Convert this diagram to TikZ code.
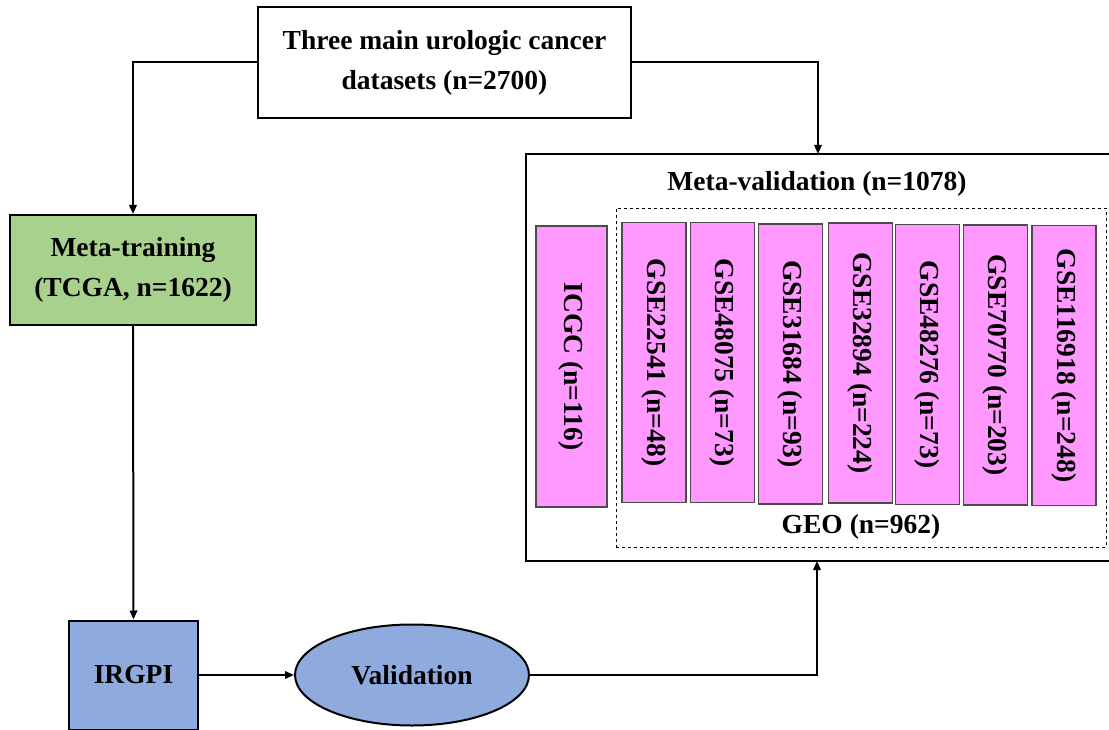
\documentclass[tikz,border=0pt]{standalone}
\usepackage{fontspec}
\setmainfont{Liberation Serif}
\usetikzlibrary{arrows.meta,shapes.geometric}
\definecolor{TrainGreen}{HTML}{A9D18E}
\definecolor{ModelBlue}{HTML}{8FAADC}
\definecolor{CohortPink}{HTML}{FF99FF}

\begin{document}
\begin{tikzpicture}[x=1pt,y=-1pt,
    font=\fontsize{27.5}{40}\selectfont\bfseries,
    box/.style={draw,line width=2pt,inner sep=0pt,align=center},
    cohort/.style={draw=black!70,line width=1.1pt,fill=CohortPink,rotate=-90,inner sep=0pt,minimum width=280pt,minimum height=64pt},
    arr/.style={line width=2pt,-{Triangle[length=9pt,width=7.5pt]}}]
    \useasboundingbox (0,0) rectangle (1109,730);
    \node[box,minimum width=373pt,minimum height=111pt] (src) at (444.5,62.5) {Three main urologic cancer\\datasets (n=2700)};
    \node[box,fill=TrainGreen,minimum width=246pt,minimum height=110pt] (train) at (133,270) {Meta-training\\(TCGA, n=1622)};
    \node[box,fill=ModelBlue,minimum width=129pt,minimum height=109pt] (irgpi) at (133.5,675) {IRGPI};
    \node[box,ellipse,fill=ModelBlue,minimum width=234pt,minimum height=101pt] (val) at (412,675) {Validation};
    \node[box,line width=2.4pt,minimum width=584pt,minimum height=407pt] (meta) at (818,357.5) {};
    \node[draw,dashed,line width=0.9pt,minimum width=490pt,minimum height=339pt] (geo) at (861,377.5) {};
    \node (metalbl) at (817,184) {Meta-validation (n=1078)};
    \node (geolbl) at (861,527) {GEO (n=962)};
    \node[cohort,minimum height=71pt,minimum width=281pt] (icgc) at (571.5,366.5) {ICGC (n=116)};
    \foreach \n/\lbl/\cx/\cy in {1/GSE22541 (n=48)/654/362.5,2/GSE48075 (n=73)/722.5/362.5,
        3/GSE31684 (n=93)/790.5/364,4/GSE32894 (n=224)/860.5/363,5/GSE48276 (n=73)/927.5/364.5,
        6/GSE70770 (n=203)/995.5/365,7/GSE116918 (n=248)/1064/365.5} {
     \node[cohort] (gse\n) at (\cx,\cy) {\lbl};
    }
    \coordinate (mvin) at (818,154);
    \coordinate (mvout) at (817,561);
    \draw[arr] (src.west) -| (train.north);
    \draw[arr] (src.east) -| (mvin);
    \draw[arr] (train.south) -- (irgpi.north);
    \draw[arr] (irgpi.east) -- (val.west);
    \draw[arr] (val.east) -| (mvout);
\end{tikzpicture}
\end{document}
